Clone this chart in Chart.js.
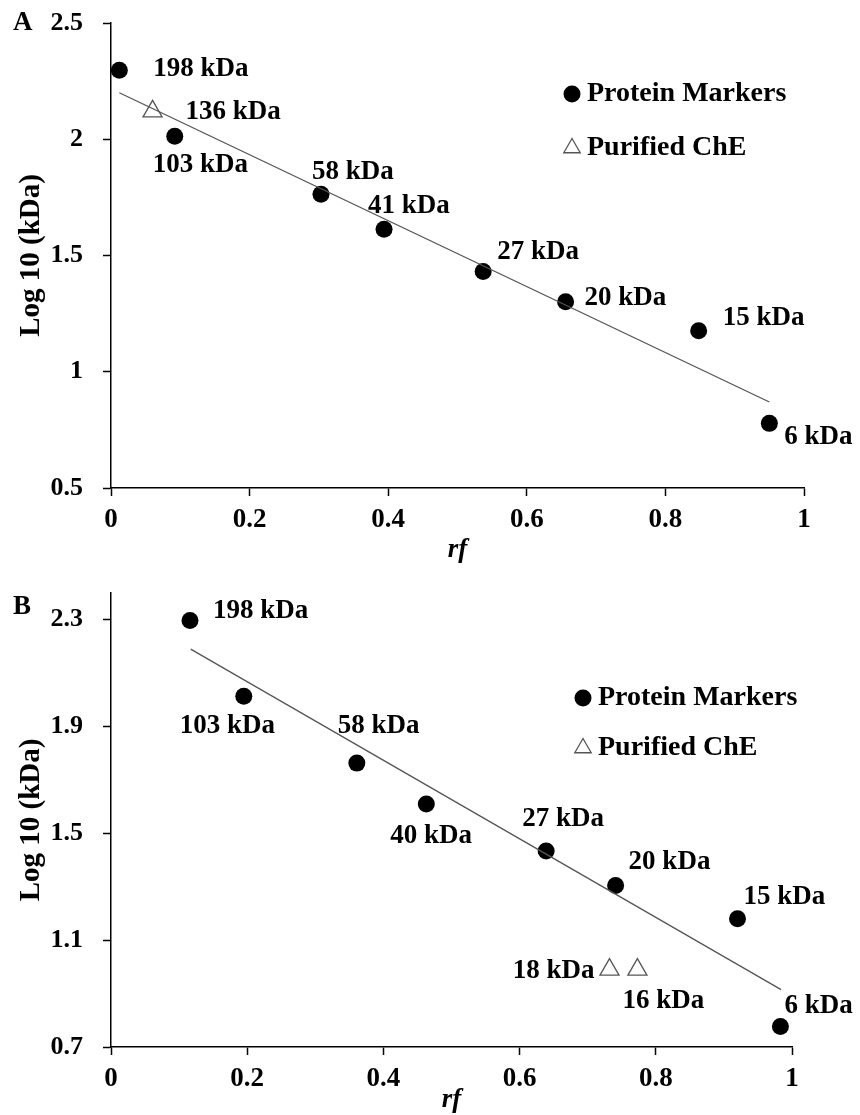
<!DOCTYPE html>
<html>
<head>
    <script src="https://cdn.jsdelivr.net/npm/chart.js@4.4.0/dist/chart.umd.min.js"></script>
    <style>
        body {
            margin: 0;
            background: white;
            width: 860px;
            height: 1115px;
            position: relative;
            overflow: hidden;
        }
        canvas {
            position: absolute;
            left: 0;
        }
        #chartA { top: 0; }
        #chartB { top: 560px; }
    </style>
</head>
<body>
    <canvas id="chartA" width="860" height="575"></canvas>
    <canvas id="chartB" width="860" height="555"></canvas>

    <script>
        // ---- panel A data ----
        const rfMarkersA = [0.012, 0.092, 0.303, 0.394, 0.537, 0.656, 0.848, 0.950];
        const logMarkersA = [2.297, 2.013, 1.763, 1.613, 1.431, 1.301, 1.176, 0.778];
        const markerNamesA = ['198 kDa', '103 kDa', '58 kDa', '41 kDa', '27 kDa', '20 kDa', '15 kDa', '6 kDa'];
        const rfPurifiedA = [0.060];
        const logPurifiedA = [2.12];
        const purifiedNamesA = ['136 kDa'];
        const rfTrendA = [0.012, 0.950];
        const logTrendA = [2.20, 0.87];
        const yTicksA = [0.5, 1, 1.5, 2, 2.5];
        const yTickLabelsA = ['0.5', '1', '1.5', '2', '2.5'];

        // ---- panel B data ----
        const rfMarkersB = [0.116, 0.195, 0.361, 0.463, 0.639, 0.741, 0.920, 0.983];
        const logMarkersB = [2.297, 2.013, 1.763, 1.61, 1.434, 1.305, 1.18, 0.777];
        const markerNamesB = ['198 kDa', '103 kDa', '58 kDa', '40 kDa', '27 kDa', '20 kDa', '15 kDa', '6 kDa'];
        const rfPurifiedB = [0.732, 0.773];
        const logPurifiedB = [0.99, 0.99];
        const purifiedNamesB = ['18 kDa', '16 kDa'];
        const rfTrendB = [0.117, 0.984];
        const logTrendB = [2.19, 0.915];
        const yTicksB = [0.7, 1.1, 1.5, 1.9, 2.3];
        const yTickLabelsB = ['0.7', '1.1', '1.5', '1.9', '2.3'];

        // shared x axis
        const xTicks = [0, 0.2, 0.4, 0.6, 0.8, 1];
        const xTickLabels = ['0', '0.2', '0.4', '0.6', '0.8', '1'];

        const FONT = '"Liberation Serif", "Times New Roman", serif';

        // label offsets (px) from each point: [dx, dy, align]
        const offsetsMarkersA = [[34, -1], [-22, 29], [-9, -22], [-16, -23], [14, -20], [19, -4], [24, -13], [15, 14]];
        const offsetsPurifiedA = [[33, 1]];
        const offsetsMarkersB = [[23, -9], [-64, 30], [-19, -37], [-36, 32], [-24, -32], [13, -23], [6, -22], [4, -20]];
        const offsetsPurifiedB = [[-15, 1, 'right'], [-15, 31]];

        function toPoints(xs, ys) {
            return xs.map((x, i) => ({ x: x, y: ys[i] }));
        }

        // keep the plot area exactly where the layout padding puts it
        function noEdgePadding(scale) {
            scale.paddingTop = 0;
            scale.paddingBottom = 0;
            scale.paddingLeft = 0;
            scale.paddingRight = 0;
        }

        // text next to each point
        const pointLabelPlugin = {
            id: 'pointLabels',
            afterDatasetsDraw(chart) {
                const ctx = chart.ctx;
                ctx.save();
                ctx.font = 'bold 27px ' + FONT;
                ctx.fillStyle = '#000';
                ctx.textBaseline = 'middle';
                chart.data.datasets.forEach((ds, i) => {
                    if (!ds.names) return;
                    const meta = chart.getDatasetMeta(i);
                    meta.data.forEach((pt, j) => {
                        const off = ds.offsets[j];
                        ctx.textAlign = off[2] || 'left';
                        ctx.fillText(ds.names[j], pt.x + off[0], pt.y + off[1]);
                    });
                });
                ctx.restore();
            }
        };

        // legend inside the plot + panel letter
        const decorPlugin = {
            id: 'decor',
            afterDraw(chart, args, opts) {
                const ctx = chart.ctx;
                ctx.save();
                ctx.fillStyle = '#000';
                ctx.textBaseline = 'middle';
                ctx.textAlign = 'left';
                ctx.font = 'bold 27px ' + FONT;
                ctx.fillText(opts.letter, opts.letterX, opts.letterY);

                const items = chart.data.datasets.filter(ds => ds.legendShape);
                items.forEach((ds, k) => {
                    const cx = opts.legendX;
                    const cy = opts.legendY + k * opts.legendGap;
                    ctx.beginPath();
                    if (ds.legendShape === 'circle') {
                        ctx.arc(cx, cy, 8.5, 0, Math.PI * 2);
                        ctx.fillStyle = '#000';
                        ctx.fill();
                    } else {
                        const r = 9.5;
                        ctx.moveTo(cx, cy - r);
                        ctx.lineTo(cx + r * 0.866, cy + r / 2);
                        ctx.lineTo(cx - r * 0.866, cy + r / 2);
                        ctx.closePath();
                        ctx.lineWidth = 1.3;
                        ctx.strokeStyle = '#555';
                        ctx.stroke();
                    }
                    ctx.fillStyle = '#000';
                    ctx.font = 'bold 28px ' + FONT;
                    ctx.fillText(ds.label, cx + 15, cy);
                });
                ctx.restore();
            }
        };

        function makePanel(id, p) {
            const ctx = document.getElementById(id).getContext('2d');
            return new Chart(ctx, {
                type: 'scatter',
                data: {
                    datasets: [
                        {
                            label: 'trend',
                            data: toPoints(p.rfTrend, p.logTrend),
                            showLine: true,
                            borderColor: '#555',
                            borderWidth: 1.3,
                            pointRadius: 0,
                            clip: false
                        },
                        {
                            label: 'Protein Markers',
                            legendShape: 'circle',
                            data: toPoints(p.rfMarkers, p.logMarkers),
                            names: p.markerNames,
                            offsets: p.offsetsMarkers,
                            pointStyle: 'circle',
                            pointRadius: 8.5,
                            backgroundColor: '#000',
                            borderColor: '#000',
                            borderWidth: 0,
                            clip: false
                        },
                        {
                            label: 'Purified ChE',
                            legendShape: 'triangle',
                            data: toPoints(p.rfPurified, p.logPurified),
                            names: p.purifiedNames,
                            offsets: p.offsetsPurified,
                            pointStyle: 'triangle',
                            pointRadius: 11,
                            backgroundColor: '#fff',
                            borderColor: '#555',
                            borderWidth: 1.3,
                            clip: false
                        }
                    ]
                },
                options: {
                    responsive: false,
                    animation: false,
                    layout: {
                        padding: { top: p.padTop, right: p.padRight, left: 0, bottom: 0 }
                    },
                    scales: {
                        x: {
                            type: 'linear',
                            min: 0,
                            max: 1,
                            afterBuildTicks: (scale) => {
                                scale.ticks = xTicks.map(v => ({ value: v }));
                            },
                            afterFit: (scale) => {
                                scale.height = p.xHeight;
                                noEdgePadding(scale);
                            },
                            ticks: {
                                callback: (v, i) => xTickLabels[i],
                                color: '#000',
                                padding: 8,
                                maxRotation: 0,
                                font: { family: FONT, size: 27, weight: 'bold' }
                            },
                            grid: {
                                drawOnChartArea: false,
                                tickLength: 8,
                                tickColor: '#000',
                                tickWidth: 1.5
                            },
                            border: { color: '#000', width: 1.5 },
                            title: {
                                display: true,
                                text: 'rf',
                                color: '#000',
                                padding: { top: 0, bottom: p.rfPad },
                                font: { family: FONT, size: 27, weight: 'bold', style: 'italic', lineHeight: 1 }
                            }
                        },
                        y: {
                            type: 'linear',
                            min: p.yMin,
                            max: p.yMax,
                            afterBuildTicks: (scale) => {
                                scale.ticks = p.yTicks.map(v => ({ value: v }));
                            },
                            afterFit: (scale) => {
                                scale.width = 111;
                                noEdgePadding(scale);
                            },
                            ticks: {
                                callback: (v, i) => p.yTickLabels[i],
                                color: '#000',
                                padding: 20,
                                font: { family: FONT, size: 26, weight: 'bold' }
                            },
                            grid: {
                                drawOnChartArea: false,
                                tickLength: 8,
                                tickColor: '#000',
                                tickWidth: 1.5
                            },
                            border: { color: '#000', width: 1.5 },
                            title: {
                                display: true,
                                text: 'Log 10 (kDa)',
                                color: '#000',
                                padding: { top: 14, bottom: 0 },
                                font: { family: FONT, size: 29, weight: 'bold' }
                            }
                        }
                    },
                    plugins: {
                        legend: { display: false },
                        tooltip: { enabled: false },
                        decor: {
                            letter: p.letter,
                            letterX: 13,
                            letterY: p.letterY,
                            legendX: p.legendX,
                            legendY: p.legendY,
                            legendGap: p.legendGap
                        }
                    }
                },
                plugins: [pointLabelPlugin, decorPlugin]
            });
        }

        makePanel('chartA', {
            rfMarkers: rfMarkersA, logMarkers: logMarkersA, markerNames: markerNamesA, offsetsMarkers: offsetsMarkersA,
            rfPurified: rfPurifiedA, logPurified: logPurifiedA, purifiedNames: purifiedNamesA, offsetsPurified: offsetsPurifiedA,
            rfTrend: rfTrendA, logTrend: logTrendA,
            yMin: 0.5, yMax: 2.5, yTicks: yTicksA, yTickLabels: yTickLabelsA,
            padTop: 23, padRight: 56, xHeight: 87, rfPad: 11,
            letter: 'A', letterY: 23,
            legendX: 572, legendY: 94, legendGap: 54
        });

        makePanel('chartB', {
            rfMarkers: rfMarkersB, logMarkers: logMarkersB, markerNames: markerNamesB, offsetsMarkers: offsetsMarkersB,
            rfPurified: rfPurifiedB, logPurified: logPurifiedB, purifiedNames: purifiedNamesB, offsetsPurified: offsetsPurifiedB,
            rfTrend: rfTrendB, logTrend: logTrendB,
            yMin: 0.7, yMax: 2.4, yTicks: yTicksB, yTickLabels: yTickLabelsB,
            padTop: 33, padRight: 68, xHeight: 68, rfPad: 1.5,
            letter: 'B', letterY: 47,
            legendX: 583, legendY: 138, legendGap: 50
        });
    </script>
</body>
</html>
